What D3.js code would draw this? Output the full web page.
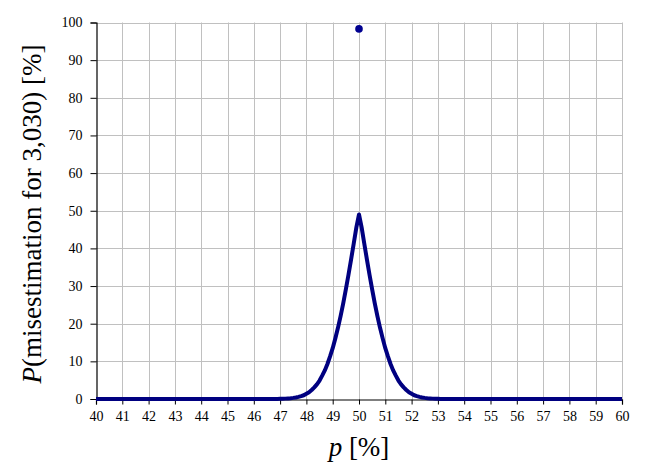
<!DOCTYPE html>
<html><head><meta charset="utf-8">
<script src="https://cdn.jsdelivr.net/npm/d3@7"></script>
<style>body{margin:0;background:#fff}svg{display:block}</style>
</head><body>
<script>
const xTicks = [40,41,42,43,44,45,46,47,48,49,50,51,52,53,54,55,56,57,58,59,60];
const yTicks = [0,10,20,30,40,50,60,70,80,90,100];
const curveP = [40,46.9,47.0,47.1,47.2,47.3,47.4,47.5,47.6,47.7,47.8,47.9,48.0,48.1,48.2,48.3,48.4,48.5,48.6,48.7,48.8,48.9,49.0,49.1,49.2,49.3,49.4,49.5,49.6,49.7,49.8,49.9,50.0,
  50.1,50.2,50.3,50.4,50.5,50.6,50.7,50.8,50.9,51.0,51.1,51.2,51.3,51.4,51.5,51.6,51.7,51.8,51.9,52.0,52.1,52.2,52.3,52.4,52.5,52.6,52.7,52.8,52.9,53.0,53.1,60];
const curveV = [0,0,0.05,0.07,0.10,0.15,0.21,0.30,0.41,0.57,0.77,1.0,1.4,1.8,2.4,3.1,3.9,4.9,6.2,7.6,9.3,11.3,13.5,16.1,18.9,22.0,25.4,29.1,33.0,37.1,41.3,45.6,49.0,
  45.6,41.3,37.1,33.0,29.1,25.4,22.0,18.9,16.1,13.5,11.3,9.3,7.6,6.2,4.9,3.9,3.1,2.4,1.8,1.4,1.0,0.77,0.57,0.41,0.30,0.21,0.15,0.10,0.07,0.05,0,0];
const dotP = [50];
const dotV = [98.3];

const FONT = "Liberation Serif";
const W = 646, H = 475;
const m = {l:96, t:22.5, r:622, b:399};
const svg = d3.select("body").append("svg").attr("width", W).attr("height", H)
  .attr("font-family", FONT);
const x = d3.scaleLinear().domain([40,60]).range([m.l, m.r]);
const y = d3.scaleLinear().domain([0,100]).range([m.b, m.t]);

// grid
const g = svg.append("g");
g.selectAll(".vg").data(xTicks.slice(1)).join("line")
  .attr("x1", d=>Math.round(x(d))+0.5).attr("x2", d=>Math.round(x(d))+0.5)
  .attr("y1", y(100)).attr("y2", y(0)).attr("stroke", "#c0c0c0").attr("stroke-width", 1);
g.selectAll(".hg").data(yTicks.slice(1)).join("line")
  .attr("y1", d=>Math.round(y(d))+0.5).attr("y2", d=>Math.round(y(d))+0.5)
  .attr("x1", x(40)).attr("x2", x(60)).attr("stroke", "#c0c0c0").attr("stroke-width", 1);

// axes
const xAxis = svg.append("g").attr("transform", `translate(0,${Math.round(y(0))+0.5})`)
  .call(d3.axisBottom(x).tickValues(xTicks).tickSize(5).tickPadding(7).tickFormat(d3.format("d")));
const yAxis = svg.append("g").attr("transform", `translate(${Math.round(x(40))+0.5},0)`)
  .call(d3.axisLeft(y).tickValues(yTicks).tickSize(6).tickPadding(8).tickFormat(d3.format("d")));
[xAxis, yAxis].forEach(a => {
  a.attr("font-family", FONT).attr("font-size", 14);
  a.select(".domain").attr("stroke", "#000").attr("stroke-width", 1.2);
  a.selectAll(".tick line").attr("stroke", "#000");
  a.selectAll("text").attr("font-family", FONT).attr("font-size", 14).attr("fill", "#000");
});

// curve
const line = d3.line().x((d,i)=>x(curveP[i])).y(d=>y(d));
svg.append("path").datum(curveV).attr("d", line)
  .attr("fill", "none").attr("stroke", "#000080").attr("stroke-width", 4).attr("stroke-linejoin", "round");

// dot
svg.selectAll(".dot").data(dotV).join("circle")
  .attr("cx", (d,i)=>x(dotP[i])).attr("cy", d=>y(d)).attr("r", 3.8).attr("fill", "#000090");

// labels
const xl = svg.append("text").attr("x", 359).attr("y", 456).attr("text-anchor", "middle")
  .attr("font-family", FONT).attr("font-size", 27).attr("fill", "#000");
xl.append("tspan").attr("font-style", "italic").text("p");
xl.append("tspan").text(" [%]");
const yl = svg.append("text").attr("transform", "translate(41,214) rotate(-90)").attr("text-anchor", "middle")
  .attr("font-family", FONT).attr("font-size", 27).attr("fill", "#000");
yl.append("tspan").attr("font-style", "italic").text("P");
yl.append("tspan").text("(misestimation for 3,030) [%]");
</script>
</body></html>
